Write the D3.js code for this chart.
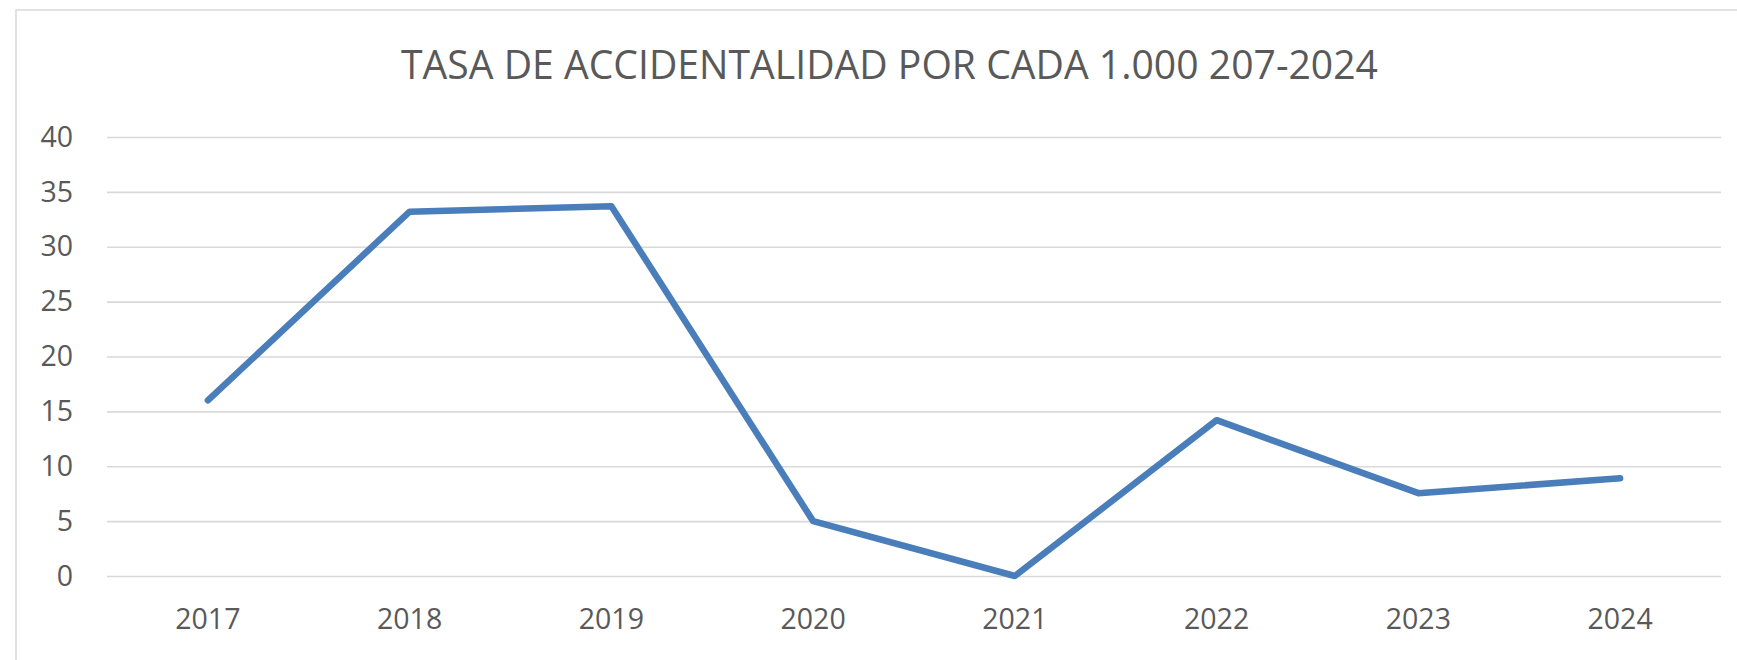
<!DOCTYPE html>
<html>
<head>
<meta charset="utf-8">
<script src="https://d3js.org/d3.v7.min.js"></script>
<style>
  body { margin: 0; background: #fff; }
  text { font-family: "Open Sans", "Liberation Sans", sans-serif; fill: #595959; }
</style>
</head>
<body>
<script>
// Data
const years = ["2017", "2018", "2019", "2020", "2021", "2022", "2023", "2024"];
const rates = [16, 33.2, 33.7, 5, 0, 14.2, 7.55, 8.9];
const yTicks = [0, 5, 10, 15, 20, 25, 30, 35, 40];
const title = "TASA DE ACCIDENTALIDAD POR CADA 1.000 207-2024";

const W = 1737, H = 660;
const margin = {top: 137, right: 16, bottom: 84, left: 107};
const width = W - margin.left - margin.right;
const height = H - margin.top - margin.bottom;

const svg = d3.select("body").append("svg")
  .attr("width", W)
  .attr("height", H);

// chart frame (runs off the right and bottom edges)
svg.append("rect")
  .attr("x", 16).attr("y", 10)
  .attr("width", 1800).attr("height", 800)
  .attr("fill", "none")
  .attr("stroke", "#d9d9d9")
  .attr("stroke-width", 1.5);

svg.append("text")
  .attr("x", 889.5)
  .attr("y", 79)
  .attr("text-anchor", "middle")
  .attr("textLength", 977)
  .attr("lengthAdjust", "spacingAndGlyphs")
  .style("font-size", "40.5px")
  .text(title);

const g = svg.append("g")
  .attr("transform", `translate(${margin.left},${margin.top})`);

const x = d3.scaleBand().domain(years).range([0, width]);
const y = d3.scaleLinear().domain([0, 40]).range([height, 0]);

// Y axis + gridlines
const yAxis = g.append("g")
  .call(d3.axisLeft(y).tickValues(yTicks).tickSize(-width).tickPadding(34));
yAxis.select(".domain").remove();
yAxis.selectAll("line").attr("stroke", "#d9d9d9").attr("stroke-width", 1.6);
yAxis.selectAll("text").style("font-size", "28.5px").attr("fill", "#595959");

// X axis
const xAxis = g.append("g")
  .attr("transform", `translate(0,${height})`)
  .call(d3.axisBottom(x).tickSize(0).tickPadding(33));
xAxis.select(".domain").remove();
xAxis.selectAll("text").style("font-size", "28.5px").attr("fill", "#595959");

// Line
const line = d3.line()
  .x((d, i) => x(years[i]) + x.bandwidth() / 2)
  .y(d => y(d));

g.append("path")
  .datum(rates)
  .attr("d", line)
  .attr("fill", "none")
  .attr("stroke", "#4a7ebb")
  .attr("stroke-width", 6.5)
  .attr("stroke-linecap", "round")
  .attr("stroke-linejoin", "round");
</script>
</body>
</html>
